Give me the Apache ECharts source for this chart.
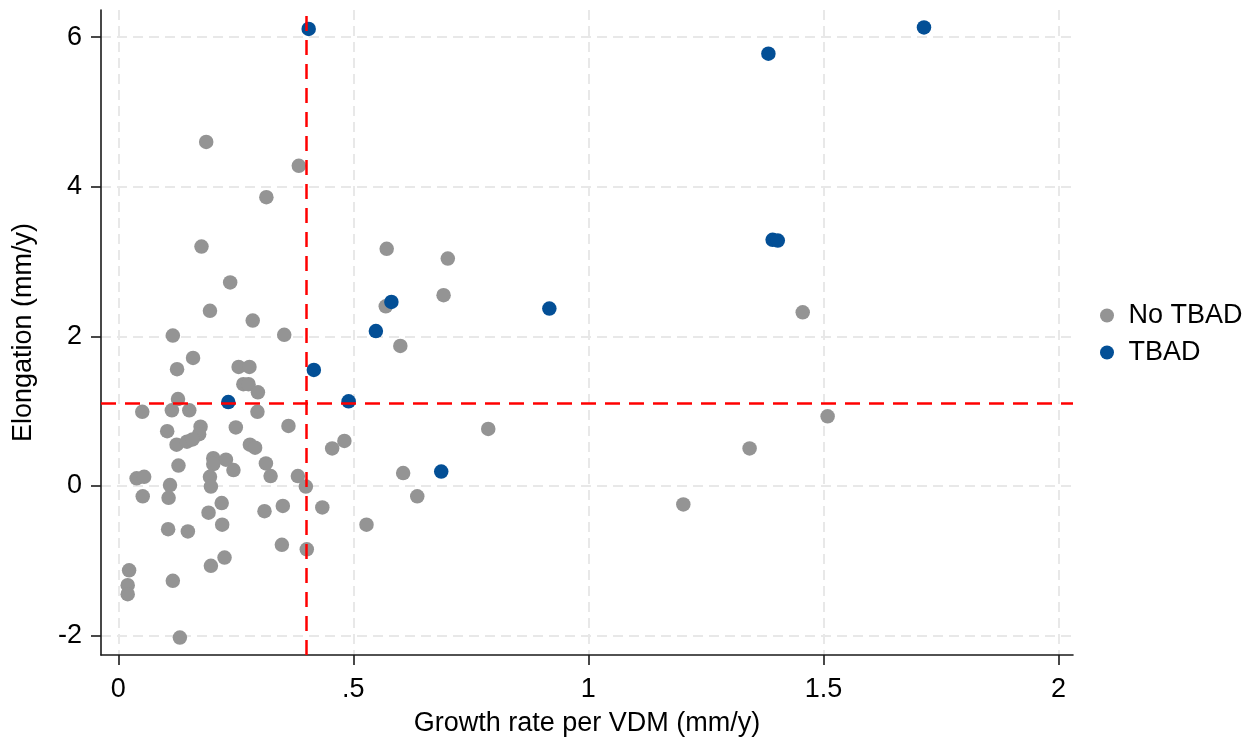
<!DOCTYPE html>
<html>
<head>
<meta charset="utf-8">
<script src="https://cdn.jsdelivr.net/npm/echarts@6/dist/echarts.min.js"></script>
<style>
html,body{margin:0;padding:0;background:#fff;}
#chart{width:1245px;height:742px;}
</style>
</head>
<body>
<div id="chart"></div>
<script>
// Series names
const seriesNames = ['No TBAD', 'TBAD'];

// No TBAD: [growth rate per VDM (mm/y), elongation (mm/y)]
const noTbad = [
  [0.187,4.60],[0.384,4.28],[0.315,3.86],[0.177,3.20],[0.238,2.72],[0.195,2.34],
  [0.286,2.21],[0.116,2.01],[0.353,2.02],[0.159,1.71],[0.125,1.56],[0.256,1.59],
  [0.279,1.59],[0.266,1.36],[0.277,1.36],[0.297,1.25],[0.127,1.16],
  [0.114,1.01],[0.151,1.01],[0.051,0.99],[0.296,0.99],
  [0.104,0.73],[0.175,0.79],[0.172,0.69],[0.124,0.55],[0.146,0.59],[0.158,0.62],
  [0.250,0.78],[0.280,0.55],[0.291,0.51],[0.362,0.80],
  [0.128,0.27],[0.202,0.37],[0.229,0.35],[0.202,0.29],[0.245,0.21],[0.314,0.30],
  [0.195,0.12],[0.197,-0.01],[0.324,0.13],[0.110,0.01],[0.382,0.13],[0.399,-0.01],
  [0.039,0.10],[0.055,0.12],[0.052,-0.14],[0.107,-0.16],[0.220,-0.23],[0.192,-0.36],
  [0.221,-0.52],[0.311,-0.34],[0.350,-0.27],[0.434,-0.29],[0.106,-0.58],[0.148,-0.61],
  [0.348,-0.79],[0.401,-0.85],[0.226,-0.96],[0.197,-1.07],[0.023,-1.13],[0.020,-1.33],
  [0.020,-1.45],[0.116,-1.27],[0.131,-2.03],
  [0.455,0.50],[0.481,0.60],
  [0.571,3.17],[0.701,3.04],[0.692,2.55],[0.569,2.40],[0.600,1.87],
  [0.787,0.76],[0.606,0.17],[0.636,-0.14],[0.528,-0.52],
  [1.456,2.32],[1.509,0.93],[1.343,0.50],[1.202,-0.25]
];

// TBAD
const tbad = [
  [0.405,6.11],[1.383,5.78],[1.714,6.13],[1.392,3.29],[1.403,3.28],[0.917,2.37],
  [0.581,2.46],[0.548,2.07],[0.416,1.55],[0.234,1.12],[0.490,1.13],[0.687,0.19]
];

// Reference (cut-off) lines
const cutX = 0.4;
const cutY = 1.1;

// Axis ticks and labels
const xTicks = [0, 0.5, 1, 1.5, 2];
const xTickLabels = ['0', '.5', '1', '1.5', '2'];
const yTicks = [-2, 0, 2, 4, 6];
const yTickLabels = ['-2', '0', '2', '4', '6'];
const xTitle = 'Growth rate per VDM (mm/y)';
const yTitle = 'Elongation (mm/y)';

const FONT = '"Liberation Sans", Arial, sans-serif';
const chart = echarts.init(document.getElementById('chart'), null, {renderer: 'canvas'});

const gridLine = {show: true, lineStyle: {color: '#e8e8e8', width: 2, type: [10, 6]}};

chart.setOption({
  animation: false,
  backgroundColor: '#fff',
  grid: {left: 101, top: 10, right: 172, bottom: 82, containLabel: false},
  legend: {
    data: seriesNames,
    orient: 'vertical',
    left: 1100,
    top: 302,
    itemWidth: 33,
    itemHeight: 14,
    itemGap: 10,
    padding: 0,
    icon: 'circle',
    textStyle: {fontFamily: FONT, fontSize: 27, color: '#000'}
  },
  xAxis: {
    type: 'value',
    min: -0.0368,
    max: 2.031,
    name: xTitle,
    nameLocation: 'middle',
    nameGap: 55,
    nameTextStyle: {fontFamily: FONT, fontSize: 27, color: '#000'},
    axisLine: {show: true, onZero: false, lineStyle: {color: '#1a1a1a', width: 1.6}},
    axisTick: {show: true, length: 10, customValues: xTicks, lineStyle: {color: '#1a1a1a', width: 1.6}},
    axisLabel: {
      show: true, customValues: xTicks, margin: 21,
      fontFamily: FONT, fontSize: 27, color: '#000',
      formatter: v => xTickLabels[xTicks.indexOf(v)] ?? ''
    },
    splitLine: gridLine
  },
  yAxis: {
    type: 'value',
    min: -2.263,
    max: 6.364,
    name: yTitle,
    nameLocation: 'middle',
    nameGap: 64,
    nameRotate: 90,
    nameTextStyle: {fontFamily: FONT, fontSize: 27, color: '#000'},
    axisLine: {show: true, onZero: false, lineStyle: {color: '#1a1a1a', width: 1.6}},
    axisTick: {show: true, length: 10, customValues: yTicks, lineStyle: {color: '#1a1a1a', width: 1.6}},
    axisLabel: {
      show: true, customValues: yTicks, margin: 19,
      fontFamily: FONT, fontSize: 27, color: '#000',
      formatter: v => yTickLabels[yTicks.indexOf(v)] ?? ''
    },
    splitLine: gridLine
  },
  series: [
    {
      name: 'refLines',
      type: 'scatter',
      data: [],
      z: 1,
      silent: true,
      markLine: {
        silent: true,
        symbol: 'none',
        label: {show: false},
        lineStyle: {color: '#ff0000', width: 2.5, type: [15, 9]},
        data: [{xAxis: cutX}, {yAxis: cutY}]
      }
    },
    {
      name: seriesNames[0],
      type: 'scatter',
      data: noTbad,
      symbol: 'circle',
      symbolSize: 14.5,
      z: 3,
      itemStyle: {color: '#949494', opacity: 1}
    },
    {
      name: seriesNames[1],
      type: 'scatter',
      data: tbad,
      symbol: 'circle',
      symbolSize: 14.5,
      z: 4,
      itemStyle: {color: '#034f96', opacity: 1}
    }
  ]
});
</script>
</body>
</html>
